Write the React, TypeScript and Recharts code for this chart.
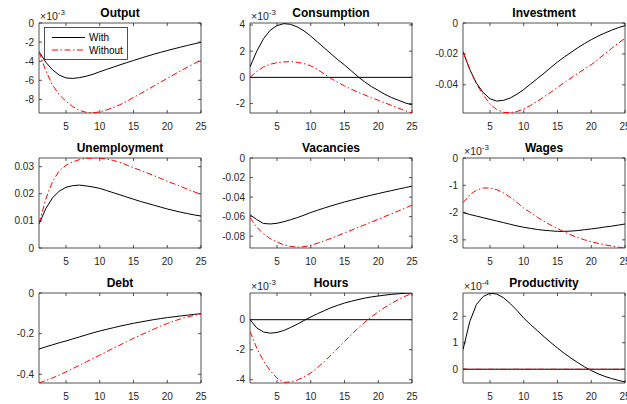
import React from 'react';
import { LineChart, Line, XAxis, YAxis, ReferenceLine, ReferenceArea, Legend } from 'recharts';

// ---------- data ----------
const T = [1, 2, 3, 4, 5, 6, 7, 8, 9, 10, 11, 12, 13, 14, 15, 16, 17, 18, 19, 20, 21, 22, 23, 24, 25];
const X_TICKS = [5, 10, 15, 20, 25];
const SERIES_NAMES = ['With', 'Without'];

const OUTPUT_WITH = [-3.0e-3, -4.1e-3, -4.9e-3, -5.45e-3, -5.75e-3, -5.8e-3, -5.72e-3, -5.57e-3, -5.37e-3, -5.1e-3, -4.86e-3, -4.62e-3, -4.38e-3, -4.15e-3, -3.92e-3, -3.7e-3, -3.48e-3, -3.27e-3, -3.07e-3, -2.88e-3, -2.7e-3, -2.52e-3, -2.35e-3, -2.18e-3, -2.02e-3];
const OUTPUT_WITHOUT = [-3.0e-3, -5.0e-3, -6.5e-3, -7.5e-3, -8.2e-3, -8.75e-3, -9.15e-3, -9.35e-3, -9.4e-3, -9.3e-3, -9.1e-3, -8.85e-3, -8.55e-3, -8.2e-3, -7.8e-3, -7.4e-3, -7.0e-3, -6.6e-3, -6.2e-3, -5.8e-3, -5.4e-3, -5.0e-3, -4.62e-3, -4.25e-3, -3.88e-3];

const CONS_WITH = [0.8e-3, 2.0e-3, 2.95e-3, 3.6e-3, 3.95e-3, 4.1e-3, 4.05e-3, 3.85e-3, 3.55e-3, 3.15e-3, 2.7e-3, 2.25e-3, 1.8e-3, 1.35e-3, 0.95e-3, 0.5e-3, 0.05e-3, -0.35e-3, -0.7e-3, -1.0e-3, -1.3e-3, -1.55e-3, -1.75e-3, -1.95e-3, -2.1e-3];
const CONS_WITHOUT = [0.0, 0.45e-3, 0.8e-3, 1.0e-3, 1.12e-3, 1.18e-3, 1.2e-3, 1.15e-3, 1.05e-3, 0.88e-3, 0.6e-3, 0.25e-3, -0.08e-3, -0.38e-3, -0.65e-3, -0.9e-3, -1.13e-3, -1.35e-3, -1.55e-3, -1.75e-3, -1.95e-3, -2.15e-3, -2.35e-3, -2.55e-3, -2.72e-3];

const INV_WITH = [-0.0185, -0.030, -0.039, -0.045, -0.049, -0.0505, -0.050, -0.0485, -0.046, -0.043, -0.0395, -0.036, -0.0325, -0.0288, -0.0252, -0.022, -0.019, -0.016, -0.0133, -0.0108, -0.0085, -0.0065, -0.0047, -0.003, -0.0017];
const INV_WITHOUT = [-0.0185, -0.0302, -0.0395, -0.0465, -0.0525, -0.056, -0.0578, -0.058, -0.0572, -0.0556, -0.0533, -0.0507, -0.0478, -0.0448, -0.0417, -0.0386, -0.0356, -0.0326, -0.0297, -0.027, -0.0235, -0.02, -0.0165, -0.013, -0.01];

const UNEMP_WITH = [0.0088, 0.0145, 0.0185, 0.021, 0.0224, 0.023, 0.0232, 0.0229, 0.0225, 0.022, 0.0212, 0.0204, 0.0196, 0.0188, 0.018, 0.0172, 0.0165, 0.0158, 0.0151, 0.0144, 0.0138, 0.0132, 0.0127, 0.0122, 0.0118];
const UNEMP_WITHOUT = [0.009, 0.018, 0.0245, 0.0285, 0.0305, 0.0318, 0.0326, 0.033, 0.0332, 0.0331, 0.0328, 0.0323, 0.0316, 0.0306, 0.0296, 0.0287, 0.0277, 0.0267, 0.0257, 0.0246, 0.0237, 0.0227, 0.0217, 0.0207, 0.0198];

const VAC_WITH = [-0.058, -0.063, -0.067, -0.0675, -0.0668, -0.0652, -0.0632, -0.061, -0.0585, -0.0558, -0.0535, -0.0512, -0.049, -0.047, -0.045, -0.0432, -0.0414, -0.0396, -0.038, -0.0364, -0.0348, -0.0333, -0.0318, -0.0303, -0.0288];
const VAC_WITHOUT = [-0.061, -0.071, -0.0775, -0.0825, -0.086, -0.0888, -0.0905, -0.0912, -0.0908, -0.0893, -0.0872, -0.0848, -0.0822, -0.0795, -0.0767, -0.0739, -0.0711, -0.0683, -0.0655, -0.0627, -0.0598, -0.057, -0.0542, -0.0512, -0.0482];

const WAGE_WITH = [-2.0e-3, -2.07e-3, -2.13e-3, -2.19e-3, -2.25e-3, -2.31e-3, -2.37e-3, -2.43e-3, -2.49e-3, -2.54e-3, -2.58e-3, -2.62e-3, -2.65e-3, -2.67e-3, -2.69e-3, -2.69e-3, -2.68e-3, -2.66e-3, -2.63e-3, -2.6e-3, -2.57e-3, -2.53e-3, -2.5e-3, -2.46e-3, -2.42e-3];
const WAGE_WITHOUT = [-1.64e-3, -1.35e-3, -1.18e-3, -1.1e-3, -1.1e-3, -1.16e-3, -1.28e-3, -1.44e-3, -1.63e-3, -1.84e-3, -2.0e-3, -2.17e-3, -2.32e-3, -2.46e-3, -2.59e-3, -2.71e-3, -2.82e-3, -2.92e-3, -3.0e-3, -3.07e-3, -3.13e-3, -3.18e-3, -3.23e-3, -3.27e-3, -3.3e-3];

const DEBT_WITH = [-0.276, -0.265, -0.255, -0.245, -0.236, -0.226, -0.216, -0.206, -0.196, -0.187, -0.179, -0.171, -0.163, -0.156, -0.149, -0.143, -0.137, -0.131, -0.126, -0.121, -0.117, -0.113, -0.109, -0.105, -0.102];
const DEBT_WITHOUT = [-0.443, -0.431, -0.418, -0.404, -0.388, -0.372, -0.356, -0.339, -0.322, -0.306, -0.289, -0.272, -0.256, -0.239, -0.223, -0.208, -0.193, -0.178, -0.163, -0.15, -0.138, -0.127, -0.118, -0.11, -0.104];

const HOURS_WITH = [0.0, -0.55e-3, -0.82e-3, -0.9e-3, -0.85e-3, -0.72e-3, -0.52e-3, -0.3e-3, -0.05e-3, 0.18e-3, 0.4e-3, 0.6e-3, 0.8e-3, 0.96e-3, 1.11e-3, 1.23e-3, 1.34e-3, 1.44e-3, 1.52e-3, 1.58e-3, 1.64e-3, 1.69e-3, 1.73e-3, 1.76e-3, 1.78e-3];
const HOURS_WITHOUT = [-0.78e-3, -1.9e-3, -2.75e-3, -3.4e-3, -3.9e-3, -4.18e-3, -4.15e-3, -4.02e-3, -3.82e-3, -3.55e-3, -3.2e-3, -2.8e-3, -2.35e-3, -1.9e-3, -1.45e-3, -1.0e-3, -0.57e-3, -0.17e-3, 0.2e-3, 0.52e-3, 0.83e-3, 1.1e-3, 1.35e-3, 1.57e-3, 1.75e-3];

const PROD_WITH = [0.74e-4, 1.8e-4, 2.45e-4, 2.75e-4, 2.87e-4, 2.84e-4, 2.7e-4, 2.48e-4, 2.22e-4, 1.93e-4, 1.69e-4, 1.46e-4, 1.23e-4, 1.01e-4, 0.8e-4, 0.6e-4, 0.42e-4, 0.25e-4, 0.09e-4, -0.05e-4, -0.17e-4, -0.27e-4, -0.35e-4, -0.42e-4, -0.48e-4];
const PROD_WITHOUT = [0, 0, 0, 0, 0, 0, 0, 0, 0, 0, 0, 0, 0, 0, 0, 0, 0, 0, 0, 0, 0, 0, 0, 0, 0];

type Cfg = {
  title: string;
  w: number[];
  wo: number[];
  domain: [number, number];
  ticks: number[];
  exp?: number;
  zero?: boolean;
  legend?: boolean;
};

const PANELS: Cfg[] = [
  { title: 'Output', w: OUTPUT_WITH, wo: OUTPUT_WITHOUT, domain: [-9.42e-3, 0], ticks: [-8e-3, -6e-3, -4e-3, -2e-3, 0], exp: -3, legend: true },
  { title: 'Consumption', w: CONS_WITH, wo: CONS_WITHOUT, domain: [-2.72e-3, 4.15e-3], ticks: [-2e-3, 0, 2e-3, 4e-3], exp: -3, zero: true },
  { title: 'Investment', w: INV_WITH, wo: INV_WITHOUT, domain: [-0.0582, 0], ticks: [-0.04, -0.02, 0] },
  { title: 'Unemployment', w: UNEMP_WITH, wo: UNEMP_WITHOUT, domain: [0, 0.0332], ticks: [0, 0.01, 0.02, 0.03] },
  { title: 'Vacancies', w: VAC_WITH, wo: VAC_WITHOUT, domain: [-0.0921, 0], ticks: [-0.08, -0.06, -0.04, -0.02, 0] },
  { title: 'Wages', w: WAGE_WITH, wo: WAGE_WITHOUT, domain: [-3.3e-3, 0], ticks: [-3e-3, -2e-3, -1e-3, 0], exp: -3 },
  { title: 'Debt', w: DEBT_WITH, wo: DEBT_WITHOUT, domain: [-0.443, 0], ticks: [-0.4, -0.2, 0] },
  { title: 'Hours', w: HOURS_WITH, wo: HOURS_WITHOUT, domain: [-4.22e-3, 1.78e-3], ticks: [-4e-3, -2e-3, 0], exp: -3, zero: true },
  { title: 'Productivity', w: PROD_WITH, wo: PROD_WITHOUT, domain: [-0.52e-4, 2.88e-4], ticks: [0, 1e-4, 2e-4], exp: -4, zero: true },
];

// ---------- layout ----------
const BOX_W = 162;
const BOX_H = 90;
const COL_X = [39, 250, 463];
const ROW_Y = [23, 158, 293];
const PADL = 45, PADT = 25, PADR = 6, PADB = 22;
const AX = '#262626';
const FONT = '"Liberation Sans", Arial, Helvetica, sans-serif';

function fmt(v: number, exp?: number): string {
  if (exp) return String(Math.round(v / Math.pow(10, exp)));
  return String(parseFloat(v.toFixed(4)));
}

const XTick = (props: any) => {
  const { x, payload } = props;
  const yb = PADT + BOX_H;
  return (
    <g>
      <line x1={x} x2={x} y1={yb} y2={yb - 3} stroke={AX} strokeWidth={0.8} />
      <line x1={x} x2={x} y1={PADT} y2={PADT + 3} stroke={AX} strokeWidth={0.8} />
      <text x={x} y={yb + 17} textAnchor="middle" fontSize={10} fill={AX} fontFamily={FONT}>
        {payload.value}
      </text>
    </g>
  );
};

const YTick = (props: any) => {
  const { y, payload, exp } = props;
  return (
    <g>
      <line x1={PADL} x2={PADL + 3} y1={y} y2={y} stroke={AX} strokeWidth={0.8} />
      <line x1={PADL + BOX_W - 3} x2={PADL + BOX_W} y1={y} y2={y} stroke={AX} strokeWidth={0.8} />
      <text x={PADL - 5} y={y + 3.5} textAnchor="end" fontSize={10} fill={AX} fontFamily={FONT}>
        {fmt(payload.value, exp)}
      </text>
    </g>
  );
};

const renderLegend = (props: any) => {
  const items = (props && props.payload) || [];
  return (
    <svg width={84} height={33} style={{ display: 'block' }}>
      <rect x={0.5} y={0.5} width={83} height={32} fill="#fff" stroke={AX} strokeWidth={0.8} />
      {items.map((it: any, i: number) => {
        const yy = 10.5 + i * 12.5;
        const dash = it.payload && it.payload.strokeDasharray;
        return (
          <g key={i}>
            <line x1={8} x2={41} y1={yy} y2={yy} stroke={it.color} strokeWidth={1} strokeDasharray={dash} />
            <text x={45} y={yy + 3.5} fontSize={10} fill="#000" fontFamily={FONT}>
              {it.value}
            </text>
          </g>
        );
      })}
    </svg>
  );
};

function Panel({ cfg, col, row }: { cfg: Cfg; col: number; row: number }) {
  const rows = T.map((t, i) => ({ t, [SERIES_NAMES[0]]: cfg.w[i], [SERIES_NAMES[1]]: cfg.wo[i] }));
  const W = PADL + BOX_W + PADR;
  const H = PADT + BOX_H + PADB;
  const left = COL_X[col] - PADL;
  const top = ROW_Y[row] - PADT;
  return (
    <div style={{ position: 'absolute', left, top, width: W, height: H }}>
      <LineChart width={W} height={H} data={rows} margin={{ top: PADT, right: PADR, bottom: 0, left: 0 }}>
        <XAxis
          dataKey="t"
          type="number"
          domain={[1, 25]}
          ticks={X_TICKS}
          interval={0}
          height={PADB}
          tickLine={false}
          axisLine={false}
          tick={<XTick />}
          allowDataOverflow
        />
        <YAxis
          type="number"
          domain={cfg.domain}
          ticks={cfg.ticks}
          interval={0}
          width={PADL}
          tickLine={false}
          axisLine={false}
          tick={<YTick exp={cfg.exp} />}
          allowDataOverflow
        />
        <ReferenceArea
          x1={1}
          x2={25}
          y1={cfg.domain[0]}
          y2={cfg.domain[1]}
          fill="none"
          fillOpacity={0}
          stroke={AX}
          strokeWidth={0.8}
          ifOverflow="visible"
        />
        {cfg.zero && <ReferenceLine y={0} stroke="#000" strokeWidth={1} />}
        <Line dataKey={SERIES_NAMES[0]} type="linear" stroke="#000" strokeWidth={1} dot={false} isAnimationActive={false} />
        <Line
          dataKey={SERIES_NAMES[1]}
          type="linear"
          stroke="#ff0000"
          strokeWidth={1}
          strokeDasharray="6 2.5 1.5 2.5"
          dot={false}
          isAnimationActive={false}
        />
        {cfg.legend && (
          <Legend
            layout="vertical"
            align="center"
            verticalAlign="middle"
            content={renderLegend}
            wrapperStyle={{ left: 50, top: 29, width: 84, height: 33 }}
          />
        )}
      </LineChart>
      <div
        style={{
          position: 'absolute',
          left: PADL,
          top: PADT - 16,
          width: BOX_W,
          textAlign: 'center',
          fontFamily: FONT,
          fontWeight: 'bold',
          fontSize: 12,
          lineHeight: '12px',
          color: '#000',
          whiteSpace: 'nowrap',
        }}
      >
        {cfg.title}
      </div>
      {cfg.exp !== undefined && (
        <div
          style={{
            position: 'absolute',
            left: PADL + 1,
            top: PADT - 12,
            fontFamily: FONT,
            fontSize: 10.5,
            lineHeight: '10px',
            color: AX,
            whiteSpace: 'nowrap',
          }}
        >
          ×10
          <span style={{ fontSize: 8, position: 'relative', top: -5 }}>{String(cfg.exp)}</span>
        </div>
      )}
    </div>
  );
}

export default function App() {
  return (
    <div
      style={{
        position: 'absolute',
        left: 0,
        top: 0,
        width: 627,
        height: 404,
        overflow: 'hidden',
        background: '#fff',
      }}
    >
      {PANELS.map((cfg, i) => (
        <Panel key={cfg.title} cfg={cfg} col={i % 3} row={Math.floor(i / 3)} />
      ))}
    </div>
  );
}
